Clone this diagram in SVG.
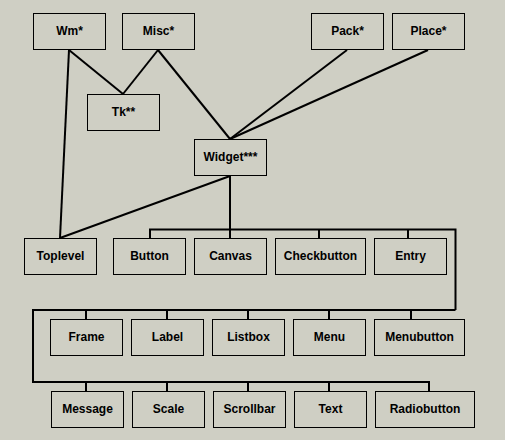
<svg xmlns="http://www.w3.org/2000/svg" width="505" height="440" viewBox="0 0 505 440">
<style>
.bg{fill:#cfcfc4}
.box rect{fill:none;stroke:#000;stroke-width:1}
.box text{font-family:"Liberation Sans",Arial,sans-serif;font-weight:bold;font-size:12px;text-anchor:middle;fill:#000}
#connectors line,#connectors polyline{stroke:#000;stroke-width:2;fill:none}
</style>
<rect class="bg" x="0" y="0" width="505" height="440"/>
<g id="connectors">
<line x1="69" y1="50" x2="123" y2="94"/>
<line x1="158" y1="50" x2="123" y2="94"/>
<line x1="158" y1="50" x2="230" y2="139"/>
<line x1="347" y1="50" x2="230" y2="139"/>
<line x1="428" y1="50" x2="230" y2="139"/>
<line x1="69" y1="50" x2="60" y2="238"/>
<line x1="230" y1="176" x2="60" y2="238"/>
<line x1="230" y1="176" x2="230" y2="238"/>
<polyline points="150,238 150,229.5 455.5,229.5 455.5,310"/>
<line x1="319" y1="229.5" x2="319" y2="238"/>
<line x1="408" y1="229.5" x2="408" y2="238"/>
<polyline points="455.5,310 33,310 33,382 429,382 429,391"/>
<line x1="86" y1="310" x2="86" y2="319"/>
<line x1="167" y1="310" x2="167" y2="319"/>
<line x1="248" y1="310" x2="248" y2="319"/>
<line x1="329" y1="310" x2="329" y2="319"/>
<line x1="411" y1="310" x2="411" y2="319"/>
<line x1="86" y1="382" x2="86" y2="391"/>
<line x1="167" y1="382" x2="167" y2="391"/>
<line x1="248" y1="382" x2="248" y2="391"/>
<line x1="329" y1="382" x2="329" y2="391"/>
</g>
<g id="wm" class="box"><rect x="33.5" y="13.5" width="72" height="36"/><text x="69.5" y="35">Wm*</text></g>
<g id="misc" class="box"><rect x="122.5" y="13.5" width="72" height="36"/><text x="158.5" y="35">Misc*</text></g>
<g id="pack" class="box"><rect x="311.5" y="13.5" width="72" height="36"/><text x="347.5" y="35">Pack*</text></g>
<g id="place" class="box"><rect x="392.5" y="13.5" width="72" height="36"/><text x="428.5" y="35">Place*</text></g>
<g id="tk" class="box"><rect x="87.5" y="94.5" width="72" height="36"/><text x="123.5" y="116">Tk**</text></g>
<g id="widget" class="box"><rect x="194.5" y="139.5" width="72" height="36"/><text x="230.5" y="161">Widget***</text></g>
<g id="toplevel" class="box"><rect x="24.5" y="238.5" width="72" height="36"/><text x="60.5" y="260">Toplevel</text></g>
<g id="button" class="box"><rect x="113.5" y="238.5" width="72" height="36"/><text x="149.5" y="260">Button</text></g>
<g id="canvas" class="box"><rect x="194.5" y="238.5" width="72" height="36"/><text x="230.5" y="260">Canvas</text></g>
<g id="checkbutton" class="box"><rect x="275.5" y="238.5" width="90" height="36"/><text x="320.5" y="260">Checkbutton</text></g>
<g id="entry" class="box"><rect x="374.5" y="238.5" width="72" height="36"/><text x="410.5" y="260">Entry</text></g>
<g id="frame" class="box"><rect x="50.5" y="319.5" width="72" height="36"/><text x="86.5" y="341">Frame</text></g>
<g id="label" class="box"><rect x="131.5" y="319.5" width="72" height="36"/><text x="167.5" y="341">Label</text></g>
<g id="listbox" class="box"><rect x="212.5" y="319.5" width="72" height="36"/><text x="248.5" y="341">Listbox</text></g>
<g id="menu" class="box"><rect x="293.5" y="319.5" width="72" height="36"/><text x="329.5" y="341">Menu</text></g>
<g id="menubutton" class="box"><rect x="374.5" y="319.5" width="90" height="36"/><text x="419.5" y="341">Menubutton</text></g>
<g id="message" class="box"><rect x="51.5" y="391.5" width="72" height="36"/><text x="87.5" y="413">Message</text></g>
<g id="scale" class="box"><rect x="132.5" y="391.5" width="72" height="36"/><text x="168.5" y="413">Scale</text></g>
<g id="scrollbar" class="box"><rect x="213.5" y="391.5" width="72" height="36"/><text x="249.5" y="413">Scrollbar</text></g>
<g id="text" class="box"><rect x="294.5" y="391.5" width="72" height="36"/><text x="330.5" y="413">Text</text></g>
<g id="radiobutton" class="box"><rect x="375.5" y="391.5" width="99" height="36"/><text x="425" y="413">Radiobutton</text></g>
</svg>
